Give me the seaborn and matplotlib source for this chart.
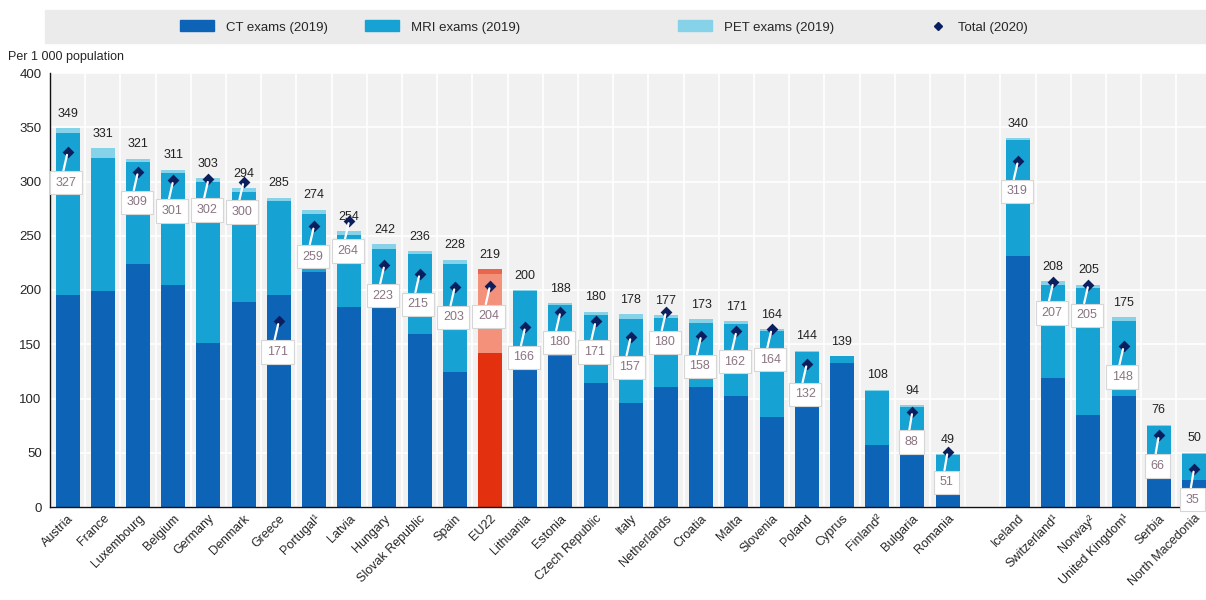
import numpy as np
import pandas as pd
import seaborn as sns
import matplotlib.pyplot as plt
from matplotlib.patches import Patch, Rectangle
from matplotlib.lines import Line2D

countries = ["Austria", "France", "Luxembourg", "Belgium", "Germany", "Denmark", "Greece",
             "Portugal\u00b9", "Latvia", "Hungary", "Slovak Republic", "Spain", "EU22",
             "Lithuania", "Estonia", "Czech Republic", "Italy", "Netherlands", "Croatia",
             "Malta", "Slovenia", "Poland", "Cyprus", "Finland\u00b2", "Bulgaria", "Romania",
             " ",
             "Iceland", "Switzerland\u00b9", "Norway\u00b2", "United Kingdom\u00b9", "Serbia",
             "North Macedonia"]

ct_2019 = [195, 199, 224, 205, 151, 189, 195, 217, 184, 184, 159, 124, 142,
           127, 139, 114, 96, 111, 111, 102, 83, 93, 133, 57, 48, 13,
           np.nan,
           231, 119, 85, 102, 27, 25]
mri_2019 = [150, 123, 94, 103, 149, 101, 87, 53, 67, 54, 74, 100, 73,
            72, 47, 63, 77, 63, 59, 67, 79, 50, 6, 50, 44, 35,
            np.nan,
            107, 86, 117, 69, 48, 24]
pet_2019 = [4, 9, 3, 3, 3, 4, 3, 4, 3, 4, 3, 4, 4,
            1, 2, 3, 5, 3, 3, 2, 2, 1, 0, 1, 2, 1,
            np.nan,
            2, 3, 3, 4, 1, 1]
total_2019 = [349, 331, 321, 311, 303, 294, 285, 274, 254, 242, 236, 228, 219,
              200, 188, 180, 178, 177, 173, 171, 164, 144, 139, 108, 94, 49,
              np.nan,
              340, 208, 205, 175, 76, 50]
total_2020 = [327, np.nan, 309, 301, 302, 300, 171, 259, 264, 223, 215, 203, 204,
              166, 180, 171, 157, 180, 158, 162, 164, 132, np.nan, np.nan, 88, 51,
              np.nan,
              319, 207, 205, 148, 66, 35]

df = pd.DataFrame({"country": countries, "ct": ct_2019, "mri": mri_2019,
                   "pet": pet_2019, "total": total_2019, "total2020": total_2020})
df["ct_mri"] = df["ct"] + df["mri"]
df["all"] = df["ct_mri"] + df["pet"]

blue = {"ct": "#0d64b6", "mri": "#16a2d2", "pet": "#86d2e8"}
red = {"ct": "#e3300f", "mri": "#f4917a", "pet": "#e8674b"}
navy = "#0b1f5e"

sns.set_style("white")
plt.rcParams['font.family'] = ['Liberation Sans Narrow', 'Liberation Sans', 'DejaVu Sans']

fig = plt.figure(figsize=(12.06, 6.0), dpi=100)
ax = fig.add_axes([50 / 1206, 93 / 600, 1161.6 / 1206, 434 / 600])
ax.set_facecolor("#f1f1f1")

def pal(key):
    return {c: (red[key] if c == "EU22" else blue[key]) for c in countries}

for col, key in [("all", "pet"), ("ct_mri", "mri"), ("ct", "ct")]:
    sns.barplot(data=df, x="country", y=col, hue="country", order=countries,
                hue_order=countries, palette=pal(key), legend=False, width=0.68,
                errorbar=None, linewidth=0, saturation=1, ax=ax)

# 2020 totals as diamonds
sns.stripplot(data=df, x="country", y="total2020", order=countries, jitter=False,
              marker="D", color=navy, size=6, linewidth=0, ax=ax, zorder=5)

for i, row in df.iterrows():
    if not np.isnan(row["total"]):
        ax.annotate(f"{int(row['total'])}", (i, row["total"]), xytext=(0, 6),
                    textcoords="offset points", ha="center", va="bottom",
                    fontsize=9, color="#222222")
    if not np.isnan(row["total2020"]):
        ax.annotate(f"{int(row['total2020'])}", (i, row["total2020"]), xytext=(-1, -22),
                    textcoords="offset points", ha="center", va="center",
                    fontsize=9, color="#8a7482", zorder=6,
                    bbox=dict(boxstyle="square,pad=0.45", fc="white", ec="#d6d6d6", lw=0.8),
                    arrowprops=dict(arrowstyle="-", color="white", lw=1.6,
                                    relpos=(0.3, 1.0), shrinkA=0, shrinkB=2))

ax.set_ylim(0, 400)
ax.set_xlim(-0.5, 32.5)
ax.set_yticks(np.arange(0, 401, 50))
ax.set_xticks(np.arange(len(countries)))
ax.set_xticks(np.arange(-0.5, len(countries), 1), minor=True)
ax.set_xticklabels(countries, rotation=45, ha="right", rotation_mode="anchor", fontsize=9)
ax.tick_params(axis="x", which="major", length=0, pad=4)
ax.tick_params(axis="x", which="minor", length=4, direction="in", color="#333333")
ax.tick_params(axis="y", length=3, direction="in", labelsize=9.5, pad=6)
ax.grid(axis="y", which="major", color="white", lw=1.2)
ax.grid(axis="x", which="minor", color="white", lw=1.2)
ax.set_axisbelow(True)
for s in ["top", "right"]:
    ax.spines[s].set_visible(False)
for s in ["left", "bottom"]:
    ax.spines[s].set_color("#111111")
    ax.spines[s].set_linewidth(1)
ax.set_xlabel("")
ax.set_ylabel("")

fig.text(8 / 1206, 1 - 57 / 600, "Per 1 000 population", fontsize=9, va="center")

# legend band
fig.patches.append(Rectangle((45 / 1206, 1 - 43 / 600), 1, 33 / 600,
                             transform=fig.transFigure, color="#ebebeb", zorder=0))
legend_items = [
    (Patch(color=blue["ct"]), "CT exams (2019)", 180),
    (Patch(color=blue["mri"]), "MRI exams (2019)", 365),
    (Patch(color=blue["pet"]), "PET exams (2019)", 678),
    (Line2D([], [], marker="D", color=navy, ls="none", markersize=4.5), "Total (2020)", 930),
]
for handle, label, xpx in legend_items:
    fig.legend([handle], [label], loc="center left", bbox_to_anchor=(xpx / 1206, 1 - 27 / 600),
               frameon=False, fontsize=9.5, handlelength=2.6 if isinstance(handle, Patch) else 1.2,
               handleheight=0.9, handletextpad=0.9, borderpad=0, borderaxespad=0)

fig.savefig("out.png", dpi=100)
